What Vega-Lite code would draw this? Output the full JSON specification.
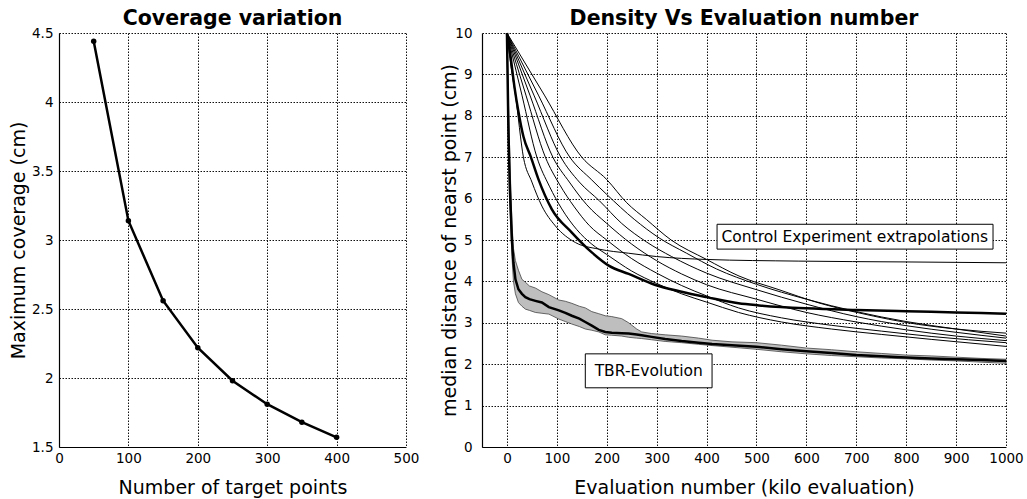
{
  "$schema": "https://vega.github.io/schema/vega-lite/v6.json",
  "background": "white",
  "padding": {"left": 9, "top": 8, "right": 0, "bottom": 0},
  "config": {
    "font": "DejaVu Sans",
    "view": {"stroke": null},
    "axis": {"grid": true, "gridColor": "#111", "gridDash": [1.5, 1.5], "gridWidth": 1, "domainColor": "#000", "domainWidth": 1.2, "ticks": false, "labelFontSize": 13.5, "labelColor": "#000", "titleFontSize": 19, "titleFontWeight": "normal", "titleColor": "#000", "labelFont": "DejaVu Sans", "titleFont": "DejaVu Sans", "labelFlush": false, "labelOverlap": false},
    "title": {"fontSize": 20.5, "fontWeight": "bold", "font": "DejaVu Sans", "color": "#000", "offset": -3},
    "concat": {"spacing": 21}
  },
  "datasets": {
    "coverage": [
      {"targets": 50, "coverage": 4.44}, {"targets": 100, "coverage": 3.14}, {"targets": 150, "coverage": 2.56}, {"targets": 200, "coverage": 2.22},
      {"targets": 250, "coverage": 1.98}, {"targets": 300, "coverage": 1.81}, {"targets": 350, "coverage": 1.68}, {"targets": 400, "coverage": 1.57}
    ],
    "tbr": [
      {"x": 0, "lo": 10, "hi": 10, "mid": 10}, {"x": 3, "lo": 7.2, "hi": 8.3, "mid": 7.6}, {"x": 6, "lo": 5.8, "hi": 6.9, "mid": 6.2},
      {"x": 10, "lo": 4.6, "hi": 5.4, "mid": 5.0}, {"x": 13, "lo": 4.0, "hi": 4.8, "mid": 4.45}, {"x": 17, "lo": 3.7, "hi": 4.5, "mid": 4.05},
      {"x": 23, "lo": 3.49, "hi": 4.27, "mid": 3.81}, {"x": 30, "lo": 3.4, "hi": 4.05, "mid": 3.7}, {"x": 37, "lo": 3.33, "hi": 3.98, "mid": 3.62},
      {"x": 45, "lo": 3.3, "hi": 3.89, "mid": 3.57}, {"x": 57, "lo": 3.25, "hi": 3.84, "mid": 3.53}, {"x": 70, "lo": 3.23, "hi": 3.75, "mid": 3.49},
      {"x": 84, "lo": 3.21, "hi": 3.68, "mid": 3.38}, {"x": 104, "lo": 3.09, "hi": 3.55, "mid": 3.3}, {"x": 117, "lo": 3.03, "hi": 3.52, "mid": 3.24},
      {"x": 130, "lo": 2.97, "hi": 3.47, "mid": 3.17}, {"x": 145, "lo": 2.91, "hi": 3.4, "mid": 3.1}, {"x": 157, "lo": 2.85, "hi": 3.36, "mid": 3.02},
      {"x": 170, "lo": 2.82, "hi": 3.27, "mid": 2.93}, {"x": 184, "lo": 2.78, "hi": 3.22, "mid": 2.83}, {"x": 197, "lo": 2.71, "hi": 3.17, "mid": 2.78},
      {"x": 210, "lo": 2.7, "hi": 3.15, "mid": 2.76}, {"x": 230, "lo": 2.68, "hi": 3.1, "mid": 2.75}, {"x": 244, "lo": 2.65, "hi": 3.0, "mid": 2.74},
      {"x": 260, "lo": 2.63, "hi": 2.85, "mid": 2.72}, {"x": 270, "lo": 2.62, "hi": 2.78, "mid": 2.7}, {"x": 290, "lo": 2.59, "hi": 2.74, "mid": 2.66},
      {"x": 317, "lo": 2.55, "hi": 2.71, "mid": 2.61}, {"x": 350, "lo": 2.52, "hi": 2.68, "mid": 2.56}, {"x": 384, "lo": 2.48, "hi": 2.63, "mid": 2.52},
      {"x": 411, "lo": 2.45, "hi": 2.58, "mid": 2.49}, {"x": 451, "lo": 2.41, "hi": 2.54, "mid": 2.46}, {"x": 500, "lo": 2.36, "hi": 2.52, "mid": 2.42},
      {"x": 550, "lo": 2.3, "hi": 2.46, "mid": 2.36}, {"x": 600, "lo": 2.25, "hi": 2.39, "mid": 2.31}, {"x": 650, "lo": 2.21, "hi": 2.35, "mid": 2.27},
      {"x": 700, "lo": 2.18, "hi": 2.3, "mid": 2.22}, {"x": 750, "lo": 2.15, "hi": 2.26, "mid": 2.19}, {"x": 800, "lo": 2.13, "hi": 2.22, "mid": 2.16},
      {"x": 850, "lo": 2.1, "hi": 2.2, "mid": 2.14}, {"x": 900, "lo": 2.08, "hi": 2.17, "mid": 2.12}, {"x": 950, "lo": 2.05, "hi": 2.14, "mid": 2.1},
      {"x": 1000, "lo": 2.02, "hi": 2.12, "mid": 2.08}
    ],
    "control": [
      {"series": "C1", "x": 0, "y": 10}, {"series": "C1", "x": 8, "y": 9.2}, {"series": "C1", "x": 17, "y": 8.5}, {"series": "C1", "x": 33, "y": 7.0},
      {"series": "C1", "x": 50, "y": 6.4}, {"series": "C1", "x": 70, "y": 5.82}, {"series": "C1", "x": 97, "y": 5.34}, {"series": "C1", "x": 137, "y": 4.94},
      {"series": "C1", "x": 184, "y": 4.78}, {"series": "C1", "x": 244, "y": 4.68}, {"series": "C1", "x": 300, "y": 4.6}, {"series": "C1", "x": 400, "y": 4.53},
      {"series": "C1", "x": 585, "y": 4.49}, {"series": "C1", "x": 800, "y": 4.47}, {"series": "C1", "x": 1000, "y": 4.45},

      {"series": "C2", "x": 0, "y": 10}, {"series": "C2", "x": 7, "y": 9.45}, {"series": "C2", "x": 15, "y": 8.7}, {"series": "C2", "x": 23, "y": 8.1},
      {"series": "C2", "x": 33, "y": 7.5}, {"series": "C2", "x": 48, "y": 7.0}, {"series": "C2", "x": 63, "y": 6.47}, {"series": "C2", "x": 90, "y": 5.74},
      {"series": "C2", "x": 130, "y": 5.18}, {"series": "C2", "x": 170, "y": 4.7}, {"series": "C2", "x": 204, "y": 4.38}, {"series": "C2", "x": 244, "y": 4.18},
      {"series": "C2", "x": 296, "y": 3.92}, {"series": "C2", "x": 350, "y": 3.75}, {"series": "C2", "x": 400, "y": 3.62}, {"series": "C2", "x": 464, "y": 3.47},
      {"series": "C2", "x": 505, "y": 3.42}, {"series": "C2", "x": 600, "y": 3.35}, {"series": "C2", "x": 700, "y": 3.31}, {"series": "C2", "x": 800, "y": 3.28},
      {"series": "C2", "x": 900, "y": 3.25}, {"series": "C2", "x": 1000, "y": 3.22},

      {"series": "C3", "x": 0, "y": 10}, {"series": "C3", "x": 30, "y": 8.5}, {"series": "C3", "x": 60, "y": 7.0}, {"series": "C3", "x": 85, "y": 6.3},
      {"series": "C3", "x": 110, "y": 5.75}, {"series": "C3", "x": 140, "y": 5.25}, {"series": "C3", "x": 170, "y": 4.9}, {"series": "C3", "x": 200, "y": 4.65},
      {"series": "C3", "x": 250, "y": 4.25}, {"series": "C3", "x": 300, "y": 3.95}, {"series": "C3", "x": 350, "y": 3.7}, {"series": "C3", "x": 400, "y": 3.5},
      {"series": "C3", "x": 464, "y": 3.25}, {"series": "C3", "x": 550, "y": 3.02}, {"series": "C3", "x": 650, "y": 2.85}, {"series": "C3", "x": 750, "y": 2.72},
      {"series": "C3", "x": 850, "y": 2.6}, {"series": "C3", "x": 1000, "y": 2.43},

      {"series": "C4", "x": 0, "y": 10}, {"series": "C4", "x": 38, "y": 8.5}, {"series": "C4", "x": 77, "y": 7.0}, {"series": "C4", "x": 105, "y": 6.35},
      {"series": "C4", "x": 135, "y": 5.8}, {"series": "C4", "x": 165, "y": 5.35}, {"series": "C4", "x": 200, "y": 5.0}, {"series": "C4", "x": 250, "y": 4.55},
      {"series": "C4", "x": 300, "y": 4.2}, {"series": "C4", "x": 350, "y": 3.9}, {"series": "C4", "x": 400, "y": 3.65}, {"series": "C4", "x": 464, "y": 3.36},
      {"series": "C4", "x": 550, "y": 3.12}, {"series": "C4", "x": 650, "y": 2.94}, {"series": "C4", "x": 750, "y": 2.8}, {"series": "C4", "x": 850, "y": 2.67},
      {"series": "C4", "x": 1000, "y": 2.52},

      {"series": "C5", "x": 0, "y": 10}, {"series": "C5", "x": 46, "y": 8.5}, {"series": "C5", "x": 92, "y": 7.0}, {"series": "C5", "x": 125, "y": 6.4},
      {"series": "C5", "x": 160, "y": 5.85}, {"series": "C5", "x": 200, "y": 5.4}, {"series": "C5", "x": 250, "y": 4.9}, {"series": "C5", "x": 300, "y": 4.5},
      {"series": "C5", "x": 350, "y": 4.18}, {"series": "C5", "x": 400, "y": 3.92}, {"series": "C5", "x": 500, "y": 3.57}, {"series": "C5", "x": 600, "y": 3.25},
      {"series": "C5", "x": 700, "y": 3.02}, {"series": "C5", "x": 800, "y": 2.83}, {"series": "C5", "x": 900, "y": 2.68}, {"series": "C5", "x": 1000, "y": 2.57},

      {"series": "C6", "x": 0, "y": 10}, {"series": "C6", "x": 54, "y": 8.5}, {"series": "C6", "x": 108, "y": 7.0}, {"series": "C6", "x": 145, "y": 6.4},
      {"series": "C6", "x": 185, "y": 5.95}, {"series": "C6", "x": 230, "y": 5.4}, {"series": "C6", "x": 280, "y": 4.95}, {"series": "C6", "x": 330, "y": 4.6},
      {"series": "C6", "x": 400, "y": 4.2}, {"series": "C6", "x": 500, "y": 3.8}, {"series": "C6", "x": 600, "y": 3.45}, {"series": "C6", "x": 700, "y": 3.15},
      {"series": "C6", "x": 800, "y": 2.93}, {"series": "C6", "x": 900, "y": 2.77}, {"series": "C6", "x": 1000, "y": 2.63},

      {"series": "C7", "x": 0, "y": 10}, {"series": "C7", "x": 63, "y": 8.5}, {"series": "C7", "x": 126, "y": 7.0}, {"series": "C7", "x": 170, "y": 6.45},
      {"series": "C7", "x": 200, "y": 6.1}, {"series": "C7", "x": 255, "y": 5.5}, {"series": "C7", "x": 305, "y": 5.05}, {"series": "C7", "x": 360, "y": 4.68},
      {"series": "C7", "x": 420, "y": 4.3}, {"series": "C7", "x": 500, "y": 3.93}, {"series": "C7", "x": 600, "y": 3.57}, {"series": "C7", "x": 700, "y": 3.27},
      {"series": "C7", "x": 800, "y": 3.03}, {"series": "C7", "x": 900, "y": 2.85}, {"series": "C7", "x": 1000, "y": 2.68},

      {"series": "C8", "x": 0, "y": 10}, {"series": "C8", "x": 75, "y": 8.5}, {"series": "C8", "x": 150, "y": 7.0}, {"series": "C8", "x": 200, "y": 6.46},
      {"series": "C8", "x": 240, "y": 5.9}, {"series": "C8", "x": 280, "y": 5.49}, {"series": "C8", "x": 329, "y": 5.0}, {"series": "C8", "x": 400, "y": 4.53},
      {"series": "C8", "x": 465, "y": 4.13}, {"series": "C8", "x": 545, "y": 3.8}, {"series": "C8", "x": 625, "y": 3.48}, {"series": "C8", "x": 705, "y": 3.24},
      {"series": "C8", "x": 825, "y": 2.96}, {"series": "C8", "x": 900, "y": 2.85}, {"series": "C8", "x": 1000, "y": 2.75}
    ],
    "labels": [
      {"label": "Control Experiment extrapolations", "x1": 421, "x2": 974, "y1": 4.78, "y2": 5.38, "tx": 697, "ty": 5.08},
      {"label": "TBR-Evolution", "x1": 157, "x2": 411, "y1": 1.43, "y2": 2.25, "tx": 284, "ty": 1.84}
    ]
  },
  "hconcat": [
    {
      "width": 347,
      "height": 414,
      "title": "Coverage variation",
      "data": {"name": "coverage"},
      "encoding": {
        "x": {"field": "targets", "type": "quantitative", "scale": {"domain": [0, 500], "nice": false, "zero": false}, "axis": {"values": [0, 100, 200, 300, 400, 500], "format": "d", "title": "Number of target points", "labelPadding": 4, "titlePadding": 14}},
        "y": {"field": "coverage", "type": "quantitative", "scale": {"domain": [1.5, 4.5], "nice": false, "zero": false}, "axis": {"values": [1.5, 2, 2.5, 3, 3.5, 4, 4.5], "format": "~g", "title": "Maximum coverage (cm)", "labelPadding": 6, "titlePadding": 3}}
      },
      "layer": [
        {"mark": {"type": "line", "color": "#000", "strokeWidth": 2.5}},
        {"mark": {"type": "point", "filled": true, "color": "#000", "size": 30, "opacity": 1}}
      ]
    },
    {
      "width": 524,
      "height": 414,
      "title": "Density Vs Evaluation number",
      "layer": [
        {
          "data": {"name": "tbr"},
          "mark": {"type": "area", "color": "#bebebe", "stroke": "#444", "strokeWidth": 0.8, "opacity": 1},
          "encoding": {
            "x": {"field": "x", "type": "quantitative", "scale": {"domain": [-50, 1000], "nice": false, "zero": false}, "axis": {"values": [0, 100, 200, 300, 400, 500, 600, 700, 800, 900, 1000], "format": "d", "title": "Evaluation number (kilo evaluation)", "labelPadding": 4, "titlePadding": 14}},
            "y": {"field": "lo", "type": "quantitative", "scale": {"domain": [0, 10], "nice": false, "zero": false}, "axis": {"values": [0, 1, 2, 3, 4, 5, 6, 7, 8, 9, 10], "format": "d", "title": "median distance of nearst point (cm)", "labelPadding": 10, "titlePadding": -5}},
            "y2": {"field": "hi"}
          }
        },
        {
          "data": {"name": "tbr"},
          "mark": {"type": "line", "color": "#000", "strokeWidth": 2.5},
          "encoding": {
            "x": {"field": "x", "type": "quantitative", "scale": {"domain": [-50, 1000], "nice": false, "zero": false}, "axis": {"values": [0, 100, 200, 300, 400, 500, 600, 700, 800, 900, 1000], "format": "d", "title": "Evaluation number (kilo evaluation)", "labelPadding": 4, "titlePadding": 14}},
            "y": {"field": "mid", "type": "quantitative", "scale": {"domain": [0, 10], "nice": false, "zero": false}, "axis": {"values": [0, 1, 2, 3, 4, 5, 6, 7, 8, 9, 10], "format": "d", "title": "median distance of nearst point (cm)", "labelPadding": 10, "titlePadding": -5}}
          }
        },
        {
          "data": {"name": "control"},
          "transform": [{"filter": "datum.series !== 'C2'"}],
          "mark": {"type": "line", "color": "#000", "strokeWidth": 1, "interpolate": "monotone"},
          "encoding": {
            "x": {"field": "x", "type": "quantitative", "scale": {"domain": [-50, 1000], "nice": false, "zero": false}, "axis": {"values": [0, 100, 200, 300, 400, 500, 600, 700, 800, 900, 1000], "format": "d", "title": "Evaluation number (kilo evaluation)", "labelPadding": 4, "titlePadding": 14}},
            "y": {"field": "y", "type": "quantitative", "scale": {"domain": [0, 10], "nice": false, "zero": false}, "axis": {"values": [0, 1, 2, 3, 4, 5, 6, 7, 8, 9, 10], "format": "d", "title": "median distance of nearst point (cm)", "labelPadding": 10, "titlePadding": -5}},
            "detail": {"field": "series", "type": "nominal"}
          }
        },
        {
          "data": {"name": "control"},
          "transform": [{"filter": "datum.series === 'C2'"}],
          "mark": {"type": "line", "color": "#000", "strokeWidth": 2.5, "interpolate": "monotone"},
          "encoding": {
            "x": {"field": "x", "type": "quantitative", "scale": {"domain": [-50, 1000], "nice": false, "zero": false}, "axis": {"values": [0, 100, 200, 300, 400, 500, 600, 700, 800, 900, 1000], "format": "d", "title": "Evaluation number (kilo evaluation)", "labelPadding": 4, "titlePadding": 14}},
            "y": {"field": "y", "type": "quantitative", "scale": {"domain": [0, 10], "nice": false, "zero": false}, "axis": {"values": [0, 1, 2, 3, 4, 5, 6, 7, 8, 9, 10], "format": "d", "title": "median distance of nearst point (cm)", "labelPadding": 10, "titlePadding": -5}}
          }
        },
        {
          "data": {"name": "labels"},
          "mark": {"type": "rect", "fill": "white", "stroke": "#000", "strokeWidth": 1},
          "encoding": {
            "x": {"field": "x1", "type": "quantitative", "scale": {"domain": [-50, 1000], "nice": false, "zero": false}, "axis": {"values": [0, 100, 200, 300, 400, 500, 600, 700, 800, 900, 1000], "format": "d", "title": "Evaluation number (kilo evaluation)", "labelPadding": 4, "titlePadding": 14}},
            "x2": {"field": "x2"},
            "y": {"field": "y1", "type": "quantitative", "scale": {"domain": [0, 10], "nice": false, "zero": false}, "axis": {"values": [0, 1, 2, 3, 4, 5, 6, 7, 8, 9, 10], "format": "d", "title": "median distance of nearst point (cm)", "labelPadding": 10, "titlePadding": -5}},
            "y2": {"field": "y2"}
          }
        },
        {
          "data": {"name": "labels"},
          "mark": {"type": "text", "fontSize": 15.5, "color": "#000", "align": "center", "baseline": "middle", "font": "DejaVu Sans"},
          "encoding": {
            "x": {"field": "tx", "type": "quantitative", "scale": {"domain": [-50, 1000], "nice": false, "zero": false}, "axis": {"values": [0, 100, 200, 300, 400, 500, 600, 700, 800, 900, 1000], "format": "d", "title": "Evaluation number (kilo evaluation)", "labelPadding": 4, "titlePadding": 14}},
            "y": {"field": "ty", "type": "quantitative", "scale": {"domain": [0, 10], "nice": false, "zero": false}, "axis": {"values": [0, 1, 2, 3, 4, 5, 6, 7, 8, 9, 10], "format": "d", "title": "median distance of nearst point (cm)", "labelPadding": 10, "titlePadding": -5}},
            "text": {"field": "label", "type": "nominal"}
          }
        }
      ]
    }
  ]
}
